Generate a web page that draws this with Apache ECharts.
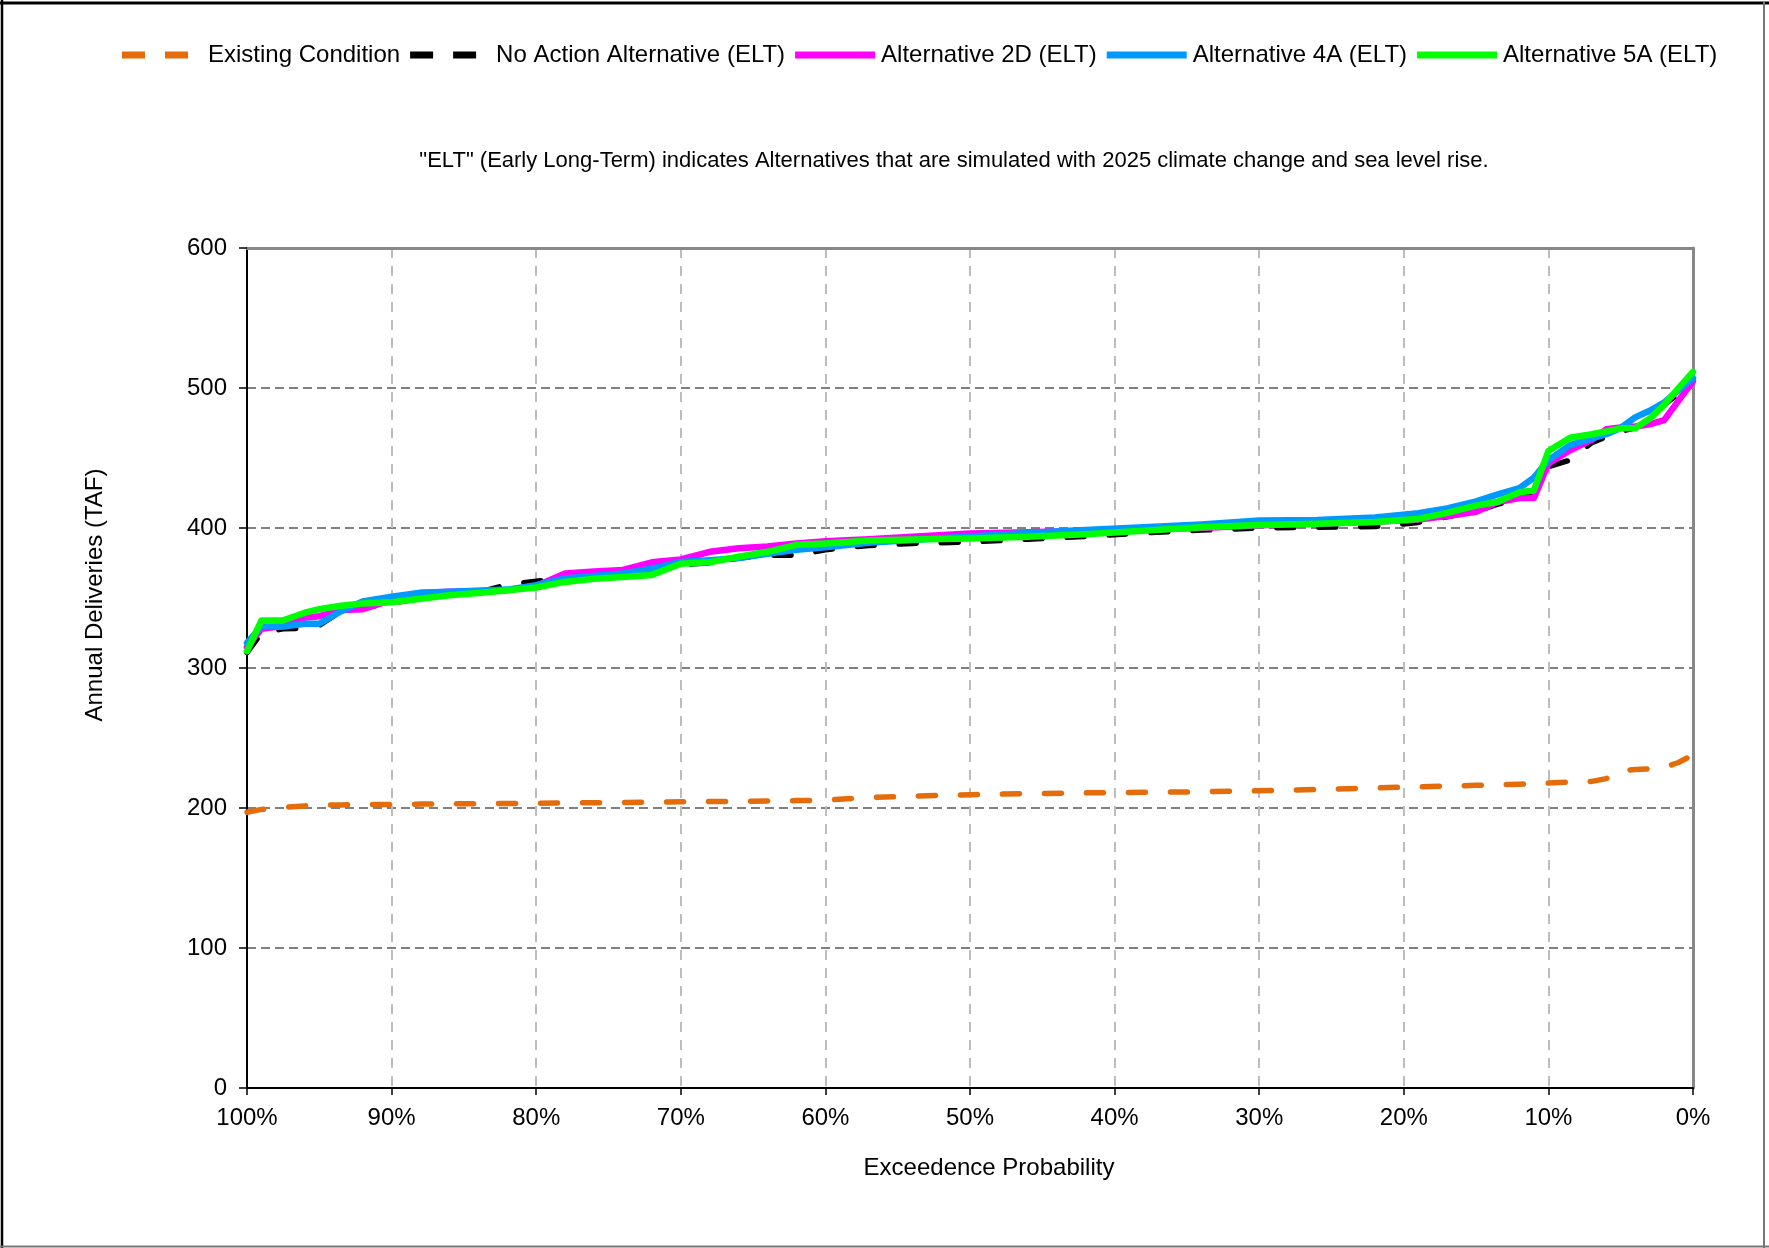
<!DOCTYPE html>
<html>
<head>
<meta charset="utf-8">
<script src="https://cdn.jsdelivr.net/npm/echarts@6/dist/echarts.min.js"></script>
<style>
  html, body { margin: 0; padding: 0; background: #fff; }
  #chart { width: 1769px; height: 1248px; }
</style>
</head>
<body>
<div id="chart"></div>
<script>
// Exceedance probability (%) at which each value was read
const probabilities = [100, 99, 97.5, 96, 95, 93.5, 92, 90, 88, 86, 84, 82, 80, 78, 76, 74, 72, 70, 68, 66, 64, 62, 60, 57, 54, 50, 46, 42, 38, 34, 30, 26, 22, 19, 17, 15, 13.5, 12, 11, 10, 8.5, 7, 6, 5, 4, 3, 2, 1, 0];

const existingCondition = [197, 199, 200.5, 201.5, 202, 202.2, 202.4, 202.6, 202.8, 203, 203.1, 203.2, 203.4, 203.6, 203.8, 204, 204.2, 204.4, 204.6, 204.8, 205, 205.3, 205.6, 207.5, 208.5, 209.5, 210.3, 210.8, 211.2, 211.6, 212.3, 213.2, 214.3, 215.2, 215.6, 216.2, 216.7, 217, 217.4, 217.8, 218.6, 219, 221, 226.5, 227.5, 228, 229, 232.5, 238];

const noActionELT = [311, 325, 328, 328.5, 330.5, 340.5, 343, 346.5, 349.5, 352.5, 354, 359.5, 362, 364, 365, 367, 370, 374, 375, 378.5, 380.5, 380.5, 384.5, 387.5, 389, 390, 392, 394, 396.5, 398.5, 400, 400.5, 401, 404, 408, 412, 417, 421, 425, 443.7, 448.5, 461, 465.2, 469, 471.5, 478, 488, 496, 502.4];

const alt2D = [315, 328, 330, 336, 337, 341.5, 342, 348.5, 353.5, 354.5, 355, 355.5, 358.5, 367.5, 369, 370, 375.5, 377.5, 383, 385.5, 386.8, 389, 390.5, 392, 393.8, 396, 397, 398, 399, 400, 402, 403, 404.5, 406, 408.5, 411.5, 418.5, 421.4, 421.5, 446, 455.5, 463, 470.5, 471.8, 472.5, 474, 477, 491, 504.8];

const alt4A = [318, 329.7, 329.7, 331.6, 331.6, 340.5, 347.5, 351, 353.8, 354.5, 355.2, 356, 359.2, 364, 365.7, 367.5, 371, 375.8, 377, 378.5, 381.5, 384.5, 386.3, 389.5, 391.5, 394, 396.5, 398.5, 400.5, 402.5, 405.3, 405.7, 407.5, 410.5, 414, 419, 424, 428.5, 436, 448.5, 459.2, 464, 467, 471.5, 479, 483.7, 489.5, 498.5, 507];

const alt5A = [312, 334, 334, 339.5, 342, 344.5, 346, 347, 349.5, 352, 353.5, 355.5, 357.5, 361.5, 363.8, 365, 366.5, 374.5, 375.5, 379.5, 383, 388, 389, 391, 391.7, 392.5, 393.7, 395.5, 398, 400.5, 402.2, 403, 404.3, 406.5, 410.8, 416, 418.8, 425.5, 426.8, 455, 464.5, 467, 469, 471.2, 471.2, 478, 488, 500, 511.5];

const seriesNames = ['Existing Condition', 'No Action Alternative (ELT)', 'Alternative 2D (ELT)', 'Alternative 4A (ELT)', 'Alternative 5A (ELT)'];
const seriesColors = ['#E46C0A', '#000000', '#FF00FF', '#0099FF', '#00FF00'];
const seriesValues = [existingCondition, noActionELT, alt2D, alt4A, alt5A];
const dashedFlags = [true, true, false, false, false];

const yTicks = { min: 0, max: 600, interval: 100 };
const xTicks = { min: 0, max: 100, interval: 10 };

const FONT = 'Liberation Sans, Arial, sans-serif';
const DASH_ICON = 'path://M0,0h23v7h-23z M43,0h23v7h-23z M79.9,3h0.1v0.1h-0.1z';
const SOLID_ICON = 'path://M0,0h80v7h-80z';

const chart = echarts.init(document.getElementById('chart'), null, { renderer: 'canvas' });

const series = seriesNames.map((name, i) => ({
  name: name,
  type: 'line',
  symbol: 'none',
  smooth: false,
  xAxisIndex: 0,
  yAxisIndex: 0,
  data: probabilities.map((p, k) => [p, seriesValues[i][k]]),
  lineStyle: {
    color: seriesColors[i],
    width: dashedFlags[i] ? 5.5 : 6.5,
    type: dashedFlags[i] ? [17, 25] : 'solid',
    cap: 'round',
    join: 'round'
  },
  itemStyle: { color: seriesColors[i] },
  emphasis: { disabled: true },
  animation: false
}));

const option = {
  animation: false,
  backgroundColor: '#ffffff',
  textStyle: { fontFamily: FONT, color: '#000' },
  legend: {
    data: seriesNames.map((n, i) => ({ name: n, icon: dashedFlags[i] ? DASH_ICON : SOLID_ICON })),
    left: 117,
    top: 38,
    itemWidth: 80,
    itemHeight: 7,
    itemGap: 10,
    selectedMode: false,
    textStyle: { fontSize: 24, color: '#000', fontFamily: FONT, padding: [0, 0, 0, 1] }
  },
  grid: { left: 247, right: 76, top: 248, bottom: 160, containLabel: false },
  xAxis: [{
    type: 'value',
    inverse: true,
    min: xTicks.min, max: xTicks.max, interval: xTicks.interval,
    name: 'Exceedence Probability',
    nameLocation: 'middle',
    nameGap: 68,
    nameTextStyle: { fontSize: 24, color: '#000', fontFamily: FONT, padding: [0, 0, 0, 38] },
    axisLine: { show: true, onZero: false, lineStyle: { color: '#000', width: 2 } },
    axisTick: { show: true, length: 7, lineStyle: { color: '#000', width: 1.5 } },
    axisLabel: { formatter: '{value}%', fontSize: 24, color: '#000', fontFamily: FONT, margin: 18 },
    splitLine: { show: true, lineStyle: { color: '#BDBDBD', width: 2, type: [10, 8] } }
  }, {
    type: 'value',
    position: 'top',
    min: xTicks.min, max: xTicks.max,
    axisLine: { show: true, onZero: false, lineStyle: { color: '#888888', width: 3 } },
    axisTick: { show: false }, axisLabel: { show: false }, splitLine: { show: false }
  }],
  yAxis: [{
    type: 'value',
    min: yTicks.min, max: yTicks.max, interval: yTicks.interval,
    axisLine: { show: true, onZero: false, lineStyle: { color: '#000', width: 2 } },
    axisTick: { show: true, length: 8, lineStyle: { color: '#000', width: 1.5 } },
    axisLabel: { fontSize: 24, color: '#000', fontFamily: FONT, margin: 20 },
    splitLine: { show: true, lineStyle: { color: '#808080', width: 2, type: [9, 5] } }
  }, {
    type: 'value',
    position: 'right',
    min: yTicks.min, max: yTicks.max,
    axisLine: { show: true, onZero: false, lineStyle: { color: '#888888', width: 3 } },
    axisTick: { show: false }, axisLabel: { show: false }, splitLine: { show: false }
  }],
  graphic: [
    {
      type: 'text', x: 954, y: 161,
      style: {
        text: '"ELT" (Early Long-Term) indicates Alternatives that are simulated with 2025 climate change and sea level rise.',
        font: '22px ' + FONT, fill: '#000', align: 'center', verticalAlign: 'middle'
      }
    },
    {
      type: 'text', x: 95, y: 595, rotation: Math.PI / 2,
      style: {
        text: 'Annual Deliveries (TAF)',
        font: '24px ' + FONT, fill: '#000', align: 'center', verticalAlign: 'middle'
      }
    },
    { type: 'line', shape: { x1: 0, y1: 3, x2: 1769, y2: 3 }, style: { stroke: '#000', lineWidth: 3 } },
    { type: 'line', shape: { x1: 2, y1: 0, x2: 2, y2: 1248 }, style: { stroke: '#000', lineWidth: 2.5 } },
    { type: 'line', shape: { x1: 1764, y1: 2, x2: 1764, y2: 1248 }, style: { stroke: '#777', lineWidth: 2 } },
    { type: 'line', shape: { x1: 0, y1: 1246.5, x2: 1769, y2: 1246.5 }, style: { stroke: '#777', lineWidth: 2 } }
  ],
  series: series
};

chart.setOption(option);
</script>
</body>
</html>
